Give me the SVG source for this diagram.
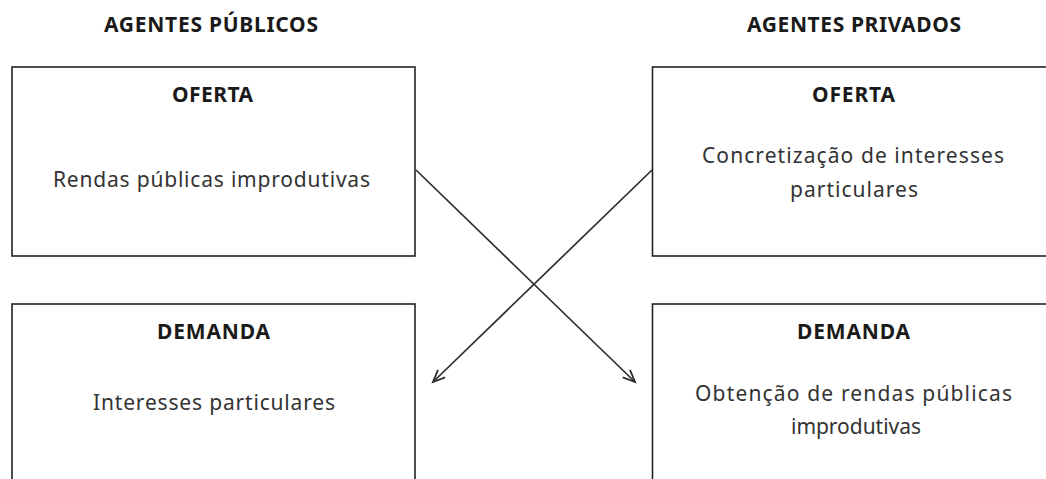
<svg xmlns="http://www.w3.org/2000/svg" width="1046" height="479" viewBox="0 0 1046 479">
  <style>
    .box { fill: #ffffff; stroke: #222222; stroke-width: 1.6; }
    .hdr { font-family: "Noto Sans", "Open Sans", "DejaVu Sans", sans-serif; font-weight: bold; font-size: 21px; fill: #1a1a1a; text-anchor: middle; }
    .txt { font-family: "Noto Sans", "Open Sans", "DejaVu Sans", sans-serif; font-size: 21px; fill: #333333; text-anchor: middle; }
    .conn { stroke: #2e2e2e; stroke-width: 1.7; fill: none; marker-end: url(#arrow); }
  </style>
  <defs>
    <marker id="arrow" markerUnits="userSpaceOnUse" markerWidth="16" markerHeight="14" refX="13" refY="6" orient="auto">
      <path d="M1,0.8 L13,6 L1,11.2" fill="none" stroke="#2e2e2e" stroke-width="1.8"/>
    </marker>
  </defs>
  <rect width="1046" height="479" fill="#ffffff"/>

  <text class="hdr" x="211" y="32" textLength="214">AGENTES PÚBLICOS</text>
  <text class="hdr" x="854" y="32" textLength="214">AGENTES PRIVADOS</text>

  <g id="publicos-oferta">
    <rect class="box" x="12" y="67" width="403" height="189"/>
    <text class="hdr" x="212.5" y="102" textLength="81">OFERTA</text>
    <text class="txt" x="211.5" y="187" textLength="317">Rendas públicas improdutivas</text>
  </g>

  <g id="privados-oferta">
    <rect class="box" x="652.5" y="67" width="420" height="189"/>
    <text class="hdr" x="853.5" y="102" textLength="83">OFERTA</text>
    <text class="txt" x="853" y="163" textLength="302">Concretização de interesses</text>
    <text class="txt" x="854" y="197" textLength="128">particulares</text>
  </g>

  <g id="publicos-demanda">
    <rect class="box" x="12" y="304" width="403" height="200"/>
    <text class="hdr" x="213.5" y="339" textLength="113">DEMANDA</text>
    <text class="txt" x="214" y="410" textLength="242">Interesses particulares</text>
  </g>

  <g id="privados-demanda">
    <rect class="box" x="652.5" y="304" width="420" height="200"/>
    <text class="hdr" x="853.5" y="339" textLength="113">DEMANDA</text>
    <text class="txt" x="853.5" y="401" textLength="317">Obtenção de rendas públicas</text>
    <text class="txt" x="856" y="434" textLength="130">improdutivas</text>
  </g>

  <g id="connectors">
    <line class="conn" x1="416" y1="170" x2="635" y2="382"/>
    <line class="conn" x1="652" y1="170" x2="433" y2="382"/>
  </g>
</svg>
